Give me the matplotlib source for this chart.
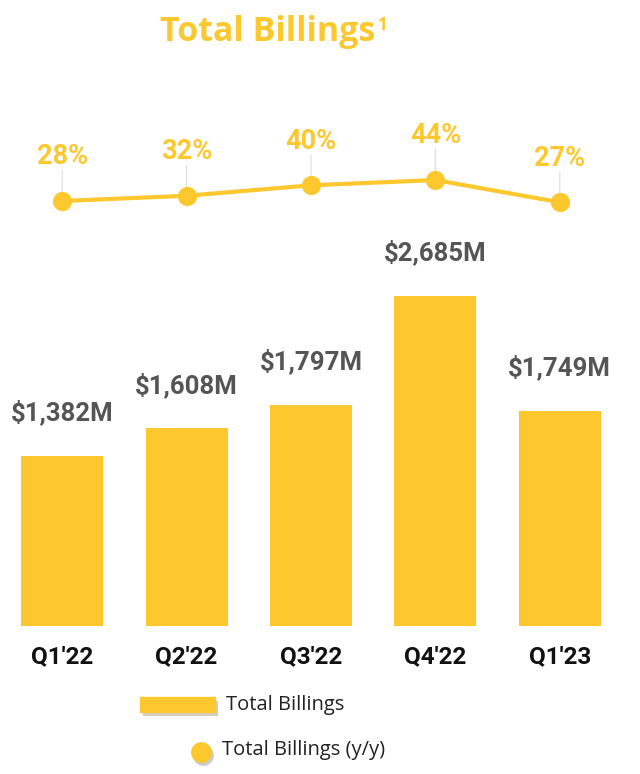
import matplotlib.pyplot as plt
from matplotlib.patches import Rectangle
from matplotlib.lines import Line2D
import matplotlib.patheffects as pe

quarters = ["Q1'22", "Q2'22", "Q3'22", "Q4'22", "Q1'23"]
billings = [1382, 1608, 1797, 2685, 1749]
growth = [28, 32, 40, 44, 27]

yellow = "#FCC82E"
W, H = 640, 774

fig = plt.figure(figsize=(W / 100, H / 100), dpi=100)


def box(left, top, right, bottom):
    # pixel box (from top-left) -> figure fraction rect
    return [left / W, 1 - bottom / H, (right - left) / W, (bottom - top) / H]


# bars
ax = fig.add_axes(box(0, 230, 622, 626))
x = range(len(quarters))
ax.bar(x, billings, width=0.66, color=yellow)
ax.set_xlim(-0.5, 4.5)
ax.set_ylim(0, 396 / 0.1229)
for i, v in enumerate(billings):
    ax.annotate(f"${v:,}M", (i, v), xytext=(0, 22), textcoords="offset points",
                ha="center", va="bottom", fontsize=18.5, fontweight="bold",
                family="Roboto", color="#555555")
ax.set_xticks(list(x))
ax.set_xticklabels(quarters, fontsize=17.5, fontweight="bold", family="Roboto", color="#111111")
ax.tick_params(length=0, pad=14)
ax.set_yticks([])
for s in ax.spines.values():
    s.set_visible(False)
ax.patch.set_alpha(0)

# growth line
ax2 = fig.add_axes(box(0, 120, 622, 220))
ax2.set_xlim(-0.5, 4.5)
ax2.set_ylim(28 - 19 / 1.31, 28 + 81 / 1.31)
ax2.plot(x, growth, color=yellow, lw=3, zorder=2)
ax2.scatter(x, growth, s=190, color=yellow, zorder=3, linewidths=0)
for i, v in enumerate(growth):
    ax2.annotate("", xy=(i, v), xytext=(0, 22), textcoords="offset points",
                 arrowprops=dict(arrowstyle="-", color="#dddddd", lw=0.8,
                                 shrinkA=0, shrinkB=0), zorder=1)
    ax2.annotate(f"{v}%", (i, v), xytext=(0, 22), textcoords="offset points",
                 ha="center", va="bottom", fontsize=19.5, fontweight="bold",
                 family="Roboto", color=yellow)
ax2.axis("off")

# title with superscript placed right after it
title = fig.text(160 / W, 1 - 32 / H, "Total Billings", ha="left", va="center",
                 fontsize=24.5, fontweight="bold", family="Open Sans", color=yellow)
fig.canvas.draw()
bb = title.get_window_extent().transformed(fig.transFigure.inverted())
fig.text(bb.x1 + 2 / W, 1 - 25 / H, "1", ha="left", va="center",
         fontsize=12, fontweight="bold", family="Open Sans", color=yellow)

# legend
shadow = [pe.SimplePatchShadow(offset=(2, -3), alpha=0.25), pe.Normal()]
r = Rectangle((140 / W, 1 - 712 / H), 75 / W, 15 / H, transform=fig.transFigure,
              color=yellow, path_effects=shadow)
fig.patches.append(r)
fig.text(226 / W, 1 - 705 / H, "Total Billings", ha="left", va="center",
         fontsize=14.5, family="Open Sans", color="#222222")
fig.add_artist(Line2D([203 / W], [1 - 755 / H], transform=fig.transFigure, marker="o",
                      markersize=15, markeredgewidth=0, color="#000000", alpha=0.2,
                      linestyle="none"))
fig.add_artist(Line2D([201 / W], [1 - 752 / H], transform=fig.transFigure, marker="o",
                      markersize=15, markeredgewidth=0, color=yellow, linestyle="none"))
fig.text(222 / W, 1 - 750 / H, "Total Billings (y/y)", ha="left", va="center",
         fontsize=14.5, family="Open Sans", color="#222222")

fig.savefig("out.png", dpi=100)
